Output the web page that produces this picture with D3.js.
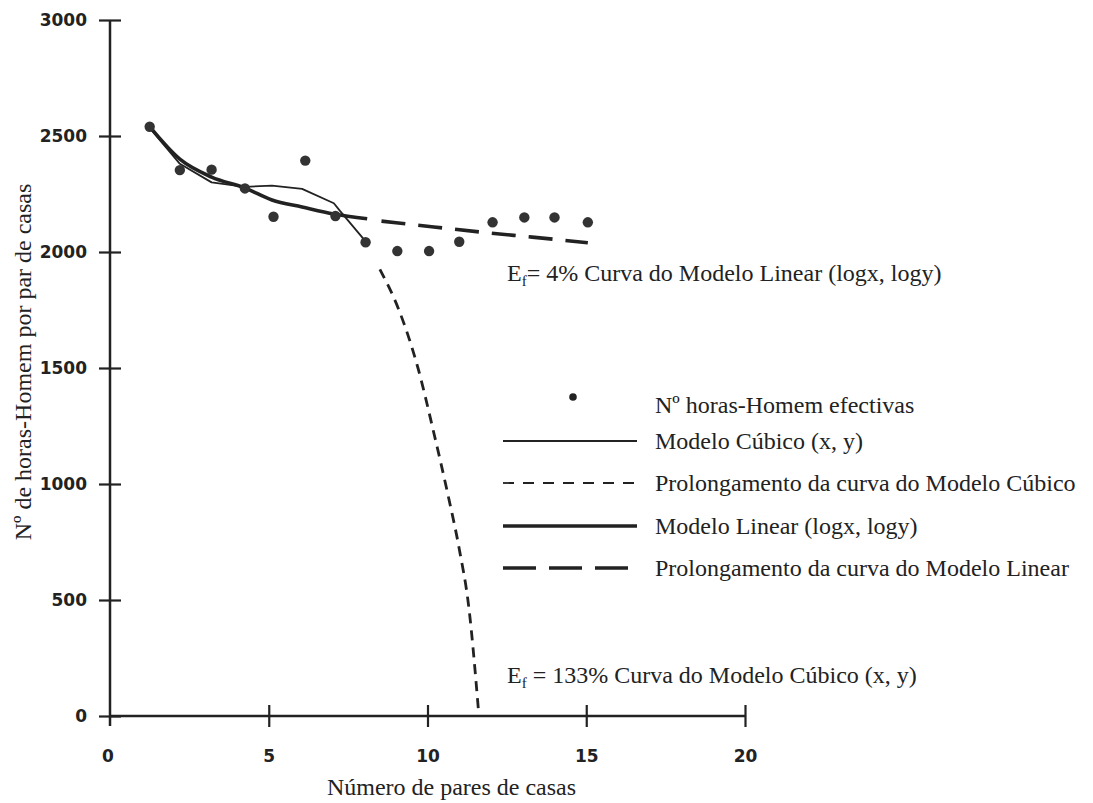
<!DOCTYPE html>
<html>
<head>
<meta charset="utf-8">
<script src="https://cdn.jsdelivr.net/npm/d3@7"></script>
<style>
  body { margin: 0; background: #fff; }
  svg { display: block; }
  .tick text { font-family: "DejaVu Sans", sans-serif; font-weight: bold; font-size: 17px; fill: #222; }
  .tick line { stroke: #222; stroke-width: 2.2; }
  .serif { font-family: "Liberation Serif", "Times New Roman", serif; font-size: 24px; fill: #222; }
</style>
</head>
<body>
<svg width="1093" height="803"></svg>
<script>
// observed points (pares de casas, horas-homem)
const obsX = [1.25, 2.2, 3.2, 4.25, 5.15, 6.15, 7.1, 8.05, 9.05, 10.05, 11.0, 12.05, 13.05, 14.0, 15.05]
const obsY = [2540, 2353, 2355, 2274, 2152, 2394, 2155, 2042, 2004, 2004, 2044, 2128, 2149, 2149, 2128]

// cubic model (thin line)
const cubX = [1.25, 2.2, 3.2, 4.25, 5.1, 6.05, 7.05, 7.25, 8.05]
const cubY = [2535, 2380, 2300, 2281, 2286, 2272, 2210, 2176, 2046]

// prolongation of the cubic model
const cubExtX = [8.5, 9.1, 9.7, 10.2, 10.65, 11.0, 11.3, 11.62]
const cubExtY = [1925, 1750, 1500, 1220, 950, 720, 470, 0]

// linear (logx, logy) model
const linX = [1.25, 2.2, 3.2, 4.25, 5.1, 6.05, 7.05, 8.1]
const linY = [2540, 2400, 2323, 2276, 2224, 2194, 2164, 2143]

// prolongation of the linear model
const linExtX = [8.55, 10.2, 11.8, 13.3, 15.05]
const linExtY = [2133, 2108, 2084, 2064, 2040]

const xTicks = [0, 5, 10, 15, 20]
const yTicks = [0, 500, 1000, 1500, 2000, 2500, 3000]

const legendLabels = [
  'Nº horas-Homem efectivas',
  'Modelo Cúbico (x, y)',
  'Prolongamento da curva do Modelo Cúbico',
  'Modelo Linear (logx, logy)',
  'Prolongamento da curva do Modelo Linear'
]
const legendKind = ['dot', 'thin', 'thinDash', 'thick', 'thickDash']

const svg = d3.select('svg')
const ink = '#222'

const x = d3.scaleLinear().domain([0, 20]).range([110, 745])
const y = d3.scaleLinear().domain([0, 3000]).range([716, 20])

/* axes */
const gx = svg.append('g').attr('transform', `translate(0,${y(0)})`)
  .call(d3.axisBottom(x).tickValues(xTicks.slice(1)).tickSizeOuter(0).tickSize(11).tickFormat(d3.format('d')))
gx.select('.domain').remove()
gx.selectAll('.tick line').attr('y1', -11)
gx.selectAll('.tick text').attr('y', 34).attr('dy', '0.71em')

const gy = svg.append('g').attr('transform', `translate(${x(0)},0)`)
  .call(d3.axisLeft(y).tickValues(yTicks).tickSizeOuter(0).tickSize(11).tickPadding(12).tickFormat(d3.format('d')))
gy.select('.domain').remove()
gy.selectAll('.tick line').attr('x1', 11)

// "0" label on x axis sits under the origin
gx.append('text').attr('x', x(0) - 2).attr('y', 34).attr('dy', '0.71em')
  .attr('text-anchor', 'middle')
  .style('font-family', '"DejaVu Sans", sans-serif').style('font-weight', 'bold')
  .style('font-size', '17px').attr('fill', ink)
  .text('0')

svg.append('line')
  .attr('x1', x(0)).attr('x2', x(20)).attr('y1', y(0)).attr('y2', y(0))
  .attr('stroke', ink).attr('stroke-width', 2.5)
svg.append('line')
  .attr('x1', x(0)).attr('x2', x(0)).attr('y1', y(3000)).attr('y2', y(0) + 10)
  .attr('stroke', ink).attr('stroke-width', 2.5)

/* axis titles */
svg.append('text').attr('class', 'serif')
  .attr('x', (x(0) + x(20)) / 2 + 24).attr('y', 795)
  .attr('text-anchor', 'middle')
  .text('Número de pares de casas')

svg.append('text').attr('class', 'serif')
  .attr('transform', 'translate(31,362) rotate(-90)')
  .attr('text-anchor', 'middle')
  .text('Nº de horas-Homem por par de casas')

/* curves */
const line = d3.line().x(d => x(d[0])).y(d => y(d[1]))
const zip = (a, b) => a.map((v, i) => [v, b[i]])

svg.append('path')
  .attr('d', line.curve(d3.curveMonotoneX)(zip(linX, linY)))
  .attr('fill', 'none').attr('stroke', ink).attr('stroke-width', 3.6)

svg.append('path')
  .attr('d', line.curve(d3.curveMonotoneX)(zip(linExtX, linExtY)))
  .attr('fill', 'none').attr('stroke', ink).attr('stroke-width', 3.6)
  .attr('stroke-dasharray', '24,13')

svg.append('path')
  .attr('d', line.curve(d3.curveLinear)(zip(cubX, cubY)))
  .attr('fill', 'none').attr('stroke', ink).attr('stroke-width', 1.8)
  .attr('stroke-linejoin', 'round')

svg.append('path')
  .attr('d', line.curve(d3.curveMonotoneX)(zip(cubExtX, cubExtY)))
  .attr('fill', 'none').attr('stroke', ink).attr('stroke-width', 2.8)
  .attr('stroke-dasharray', '10,7')

/* points */
svg.append('g').selectAll('circle')
  .data(zip(obsX, obsY))
  .join('circle')
  .attr('cx', d => x(d[0])).attr('cy', d => y(d[1]))
  .attr('r', 5.2).attr('fill', '#333')

/* annotations */
function efText(tx, ty, eq, rest) {
  const t = svg.append('text').attr('class', 'serif').attr('x', tx).attr('y', ty)
  t.append('tspan').text('E')
  t.append('tspan').attr('dy', 5).style('font-size', '15px').text('f')
  t.append('tspan').attr('dy', -5).text(eq + rest)
}
efText(507, 281, '= 4%', ' Curva do Modelo Linear (logx, logy)')
efText(507, 683, ' = 133%', ' Curva do Modelo Cúbico (x, y)')

/* legend */
const lx0 = 503, lx1 = 637, ltx = 655
const rowY = [397, 441, 483, 526, 568]
const lg = svg.append('g')
legendKind.forEach((k, i) => {
  const yy = rowY[i]
  if (k === 'dot') {
    lg.append('circle').attr('cx', 573).attr('cy', yy).attr('r', 3.8).attr('fill', ink)
  } else {
    lg.append('line').attr('x1', lx0).attr('x2', k === 'thickDash' ? 628 : lx1)
      .attr('y1', yy).attr('y2', yy).attr('stroke', ink)
      .attr('stroke-width', k.startsWith('thick') ? 3.6 : 1.8)
      .attr('stroke-dasharray', k === 'thinDash' ? '11,9' : k === 'thickDash' ? '33,13' : null)
  }
  lg.append('text').attr('class', 'serif')
    .attr('x', ltx).attr('y', (i === 0 ? yy + 8 : yy) + 8)
    .text(legendLabels[i])
})
</script>
</body>
</html>
